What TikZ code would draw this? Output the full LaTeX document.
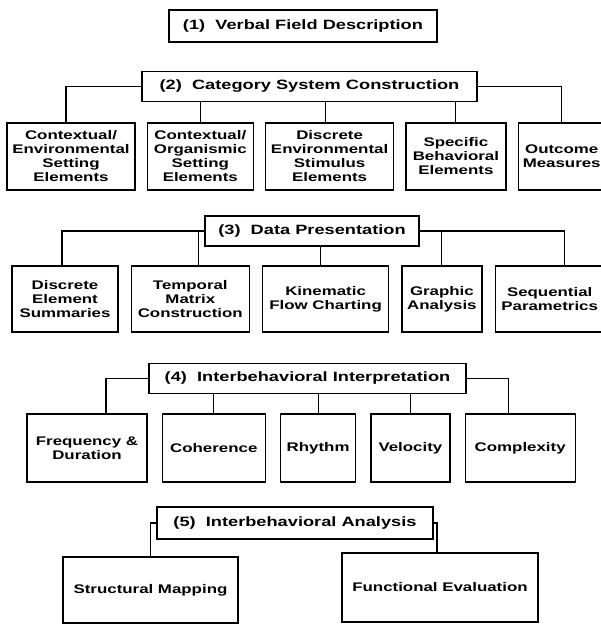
\documentclass[tikz,border=0pt]{standalone}
\usepackage{fontspec}
\setmainfont{Liberation Sans}[FakeStretch=1.35]
\usepackage{tikz}
\usetikzlibrary{positioning}
\tikzstyle{link}=[line width=1.1pt]
\tikzset{
    stage/.style={draw, line width=1.8pt, minimum width=#1, minimum height=30pt, inner sep=1pt,
         font=\fontsize{13.5}{15}\selectfont\bfseries},
    leaf/.style={draw, line width=1.3pt, minimum width=#1, minimum height=67pt, inner sep=1pt,
         align=center, font=\fontsize{12.5}{14}\selectfont\bfseries}
}

\begin{document}
\begin{tikzpicture}[x=1pt, y=-1pt, node distance=11pt]
 \useasboundingbox (0,0) rectangle (601,627);

      % (1)
      \node [stage=268pt, minimum height=32pt] (st_1) at (303,26) {(1)\ \ Verbal Field Description};

      % (2)
      \node [stage=335pt] (st_2) at (309.5,86.5) {(2)\ \ Category System Construction};
      \node [leaf=128pt] (c_2a) at (71,156.5) {Contextual/\\Environmental\\Setting\\Elements};
      \node [leaf=106pt, right=of c_2a] (c_2b) {Contextual/\\Organismic\\Setting\\Elements};
      \node [leaf=128pt, right=of c_2b] (c_2c) {Discrete\\Environmental\\Stimulus\\Elements};
      \node [leaf=100pt, right=of c_2c] (c_2d) {Specific\\Behavioral\\Elements};
      \node [leaf=87pt, right=of c_2d] (c_2e) {Outcome\\Measures};

      % (3)
      \node [stage=214pt] (st_3) at (312,231) {(3)\ \ Data Presentation};
      \node [leaf=106pt, minimum height=66pt] (c_3a) at (65,299) {Discrete\\Element\\Summaries};
      \node [leaf=118pt, minimum height=66pt, right=12pt of c_3a] (c_3b) {Temporal\\Matrix\\Construction};
      \node [leaf=126pt, minimum height=66pt, right=12pt of c_3b] (c_3c) {Kinematic\\Flow Charting};
      \node [leaf=80pt, minimum height=66pt, right=12pt of c_3c] (c_3d) {Graphic\\Analysis};
      \node [leaf=109pt, minimum height=66pt, right=12pt of c_3d] (c_3e) {Sequential\\Parametrics};

      % (4)
      \node [stage=317pt] (st_4) at (307.5,378.5) {(4)\ \ Interbehavioral Interpretation};
      \node [leaf=120pt, minimum height=68pt] (c_4a) at (87,448) {Frequency \&\\Duration};
      \node [leaf=103pt, minimum height=68pt, right=14pt of c_4a] (c_4b) {Coherence};
      \node [leaf=75pt, minimum height=68pt, right=14pt of c_4b] (c_4c) {Rhythm};
      \node [leaf=79pt, minimum height=68pt, right=14pt of c_4c] (c_4d) {Velocity};
      \node [leaf=110pt, minimum height=68pt, right=14pt of c_4d] (c_4e) {Complexity};

      % (5)
      \node [stage=276pt, minimum height=32pt] (st_5) at (295,523) {(5)\ \ Interbehavioral Analysis};
      \node [leaf=175pt, minimum height=66pt] (c_5a) at (150.5,590) {Structural Mapping};
      \node [leaf=196pt, minimum height=69pt] (c_5b) at (440,587.5) {Functional Evaluation};

    % (2)
    \draw [link] (st_2.west) -| ([xshift=-5pt]c_2a.north);
    \draw [link] (st_2.east) -| (c_2e.north);
    \draw [link] (c_2b.north) -- (c_2b.north |- st_2.south);
    \draw [link] ([xshift=-4pt]c_2c.north) -- ([xshift=-4pt]c_2c.north |- st_2.south);
    \draw [link] (c_2d.north) -- (c_2d.north |- st_2.south);

    % (3)
    \draw [link] (st_3.west) -| ([xshift=-3pt]c_3a.north);
    \draw [link] (st_3.east) -| ([xshift=15pt]c_3e.north);
    \draw [link] ([xshift=8pt]c_3b.north) -- ([xshift=8pt]c_3b.north |- st_3.west);
    \draw [link] ([xshift=-5pt]c_3c.north) -- ([xshift=-5pt]c_3c.north |- st_3.south);
    \draw [link] (c_3d.north) -- (c_3d.north |- st_3.east);

    % (4)
    \draw [link] (st_4.west) -| ([xshift=19pt]c_4a.north);
    \draw [link] (st_4.east) -| ([xshift=-12pt]c_4e.north);
    \draw [link] (c_4b.north) -- (c_4b.north |- st_4.south);
    \draw [link] (c_4c.north) -- (c_4c.north |- st_4.south);
    \draw [link] (c_4d.north) -- (c_4d.north |- st_4.south);

    % (5)
    \draw [link] (st_5.west) -| (c_5a.north);
    \draw [link] (st_5.east) -| ([xshift=-3pt]c_5b.north);

\end{tikzpicture}
\end{document}
